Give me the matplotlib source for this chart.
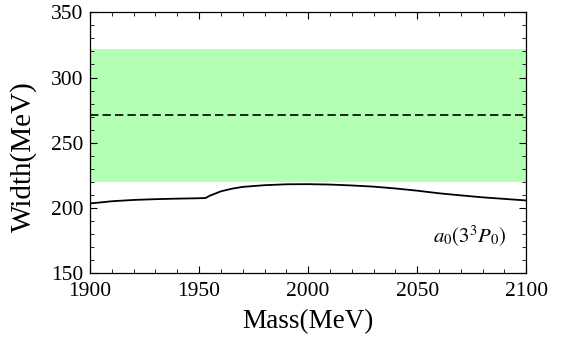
import numpy as np
import matplotlib.pyplot as plt
from matplotlib.ticker import MultipleLocator

plt.rcParams['font.family'] = ['Liberation Serif', 'DejaVu Serif']
plt.rcParams['mathtext.fontset'] = 'stix'

# width curve
mass = [1900, 1910, 1920, 1930, 1940, 1950, 1953, 1955, 1960, 1965, 1970,
        1980, 1990, 2000, 2010, 2020, 2030, 2040, 2050, 2060, 2070, 2080,
        2090, 2100]
width = [203.5, 205.2, 206.2, 206.8, 207.2, 207.5, 207.7, 209.5, 212.8,
         214.8, 216.2, 217.5, 218.2, 218.3, 218.0, 217.3, 216.4, 215.0,
         213.3, 211.3, 209.7, 208.2, 207.0, 205.8]

# experimental width and error band
exp_width = 271
exp_low = 220
exp_high = 322

fig = plt.figure(figsize=(5.67, 3.51), dpi=100)
ax = fig.add_axes([0.1587, 0.2214, 0.7695, 0.7436])

ax.fill_between([1900, 2100], exp_low, exp_high, color='#b3ffb3', lw=0)
ax.plot([1900, 2100], [exp_width, exp_width], color='black', lw=1.2,
        linestyle=(0, (5.0, 2.5)))
ax.plot(mass, width, color='black', lw=1.3)

ax.text(2091, 178, r'$a_0(3^3P_0)$', fontsize=15, ha='right', va='center')

ax.set_xlim(1900, 2100)
ax.set_ylim(150, 350)
ax.xaxis.set_major_locator(MultipleLocator(50))
ax.xaxis.set_minor_locator(MultipleLocator(10))
ax.yaxis.set_major_locator(MultipleLocator(50))
ax.yaxis.set_minor_locator(MultipleLocator(10))
ax.tick_params(which='both', direction='in', top=True, right=True,
               labelsize=15.5)
ax.tick_params(which='major', length=5, width=0.8)
ax.tick_params(which='minor', length=3, width=0.6)
ax.tick_params(axis='x', pad=6)
ax.tick_params(axis='y', pad=5)
for s in ax.spines.values():
    s.set_linewidth(0.9)

ax.set_xlabel('Mass(MeV)', fontsize=19.5, labelpad=6)
ax.set_ylabel('Width(MeV)', fontsize=21)
ax.yaxis.set_label_coords(-0.121, 0.446)

fig.savefig('out.png', dpi=100)
